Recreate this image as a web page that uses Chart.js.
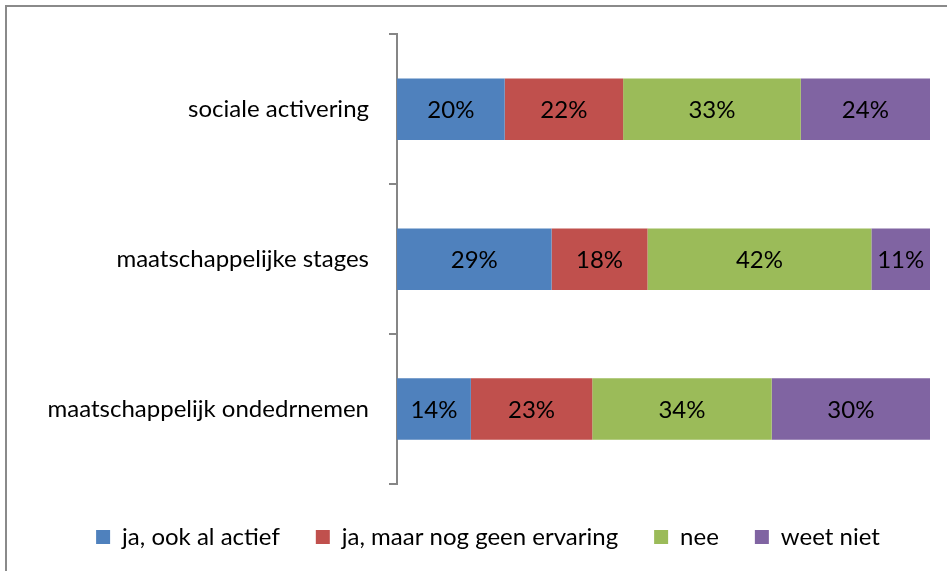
<!DOCTYPE html>
<html>
<head>
<meta charset="utf-8">
<script src="https://cdn.jsdelivr.net/npm/chart.js@4.4.1/dist/chart.umd.min.js"></script>
<style>
  html, body { margin: 0; padding: 0; background: #fff; overflow: hidden; }
  #wrap { position: relative; width: 947px; height: 571px; overflow: hidden; }
  #frame { position: absolute; left: 5px; top: 5px; width: 1000px; height: 600px;
           border-top: 2px solid #8a8a8a; border-left: 2px solid #8a8a8a; }
  canvas { position: absolute; left: 0; top: 0; }
</style>
</head>
<body>
<div id="wrap">
  <div id="frame"></div>
  <canvas id="myChart" width="947" height="571"></canvas>
</div>
<script>
// categories and answers
const categories = ['sociale activering', 'maatschappelijke stages', 'maatschappelijk ondedrnemen']
const seriesNames = ['ja, ook al actief', 'ja, maar nog geen ervaring', 'nee', 'weet niet']
const colors = ['#4F81BD', '#C0504D', '#9BBB59', '#8064A2']

// percentages per answer (same order as categories)
const jaActief = [20, 29, 14]
const jaGeenErvaring = [22, 18, 23]
const nee = [33, 42, 34]
const weetNiet = [24, 11, 30]

const allSeries = [jaActief, jaGeenErvaring, nee, weetNiet]

// 100% stacked: every row is scaled to its own total, like Excel does
const rowTotals = categories.map((_, i) => allSeries.reduce((s, arr) => s + arr[i], 0))

const FONT = 'Lato, "Open Sans", sans-serif'
const FS = 24

const barLabels = {
    id: 'barLabels',
    afterDatasetsDraw(chart) {
        const {ctx} = chart
        ctx.save()
        ctx.fillStyle = '#000'
        ctx.font = FS + 'px ' + FONT
        ctx.textAlign = 'center'
        ctx.textBaseline = 'middle'
        chart.data.datasets.forEach((ds, di) => {
            const meta = chart.getDatasetMeta(di)
            meta.data.forEach((bar, i) => {
                const p = bar.getCenterPoint()
                ctx.fillText(ds.raw[i] + '%', p.x, p.y + 1)
            })
        })
        ctx.restore()
    }
}

const ctx = document.getElementById('myChart').getContext('2d')
const myChart = new Chart(ctx, {
    type: 'bar',
    data: {
        labels: categories,
        datasets: allSeries.map((arr, k) => ({
            label: seriesNames[k],
            raw: arr,
            data: arr.map((v, i) => v / rowTotals[i] * 100),
            backgroundColor: colors[k],
            borderWidth: 0,
            barPercentage: 0.41,
            categoryPercentage: 1
        }))
    },
    options: {
        indexAxis: 'y',
        responsive: false,
        animation: false,
        // left padding pushes the centred legend a bit to the right
        layout: {padding: {left: 46, right: 17, top: 34, bottom: 12}},
        scales: {
            x: {stacked: true, min: 0, max: 100, display: false},
            y: {
                stacked: true,
                border: {display: true, color: '#868686', width: 2},
                grid: {display: true, drawOnChartArea: false, drawTicks: true, tickLength: 8,
                       color: '#868686', lineWidth: 2, offset: true},
                ticks: {color: '#000', font: {family: FONT, size: FS}, padding: 20},
                afterFit: (scale) => { scale.width = 351 }
            }
        },
        plugins: {
            legend: {
                display: true,
                position: 'bottom',
                // empty title only used as a spacer above the legend items
                title: {display: true, text: ' ', padding: 0, font: {size: 5, lineHeight: 1}},
                labels: {
                    color: '#000',
                    font: {family: FONT, size: FS},
                    boxWidth: 14,
                    boxHeight: 14,
                    padding: 36
                }
            },
            tooltip: {enabled: false}
        }
    },
    plugins: [barLabels]
})
</script>
</body>
</html>
